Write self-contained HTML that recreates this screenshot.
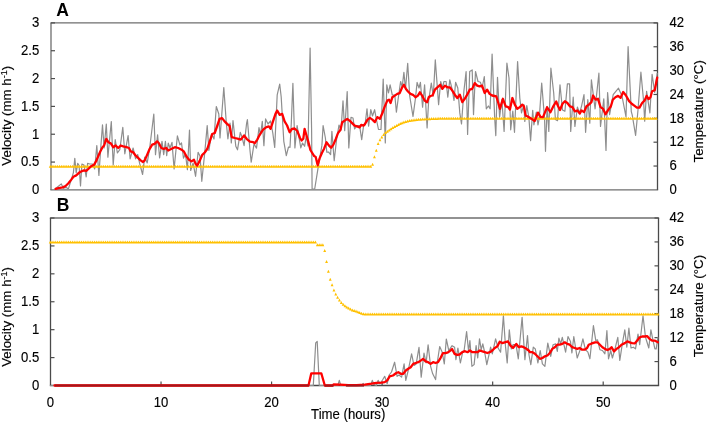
<!DOCTYPE html>
<html><head><meta charset="utf-8"><style>
html,body{margin:0;padding:0;background:#fff;width:709px;height:423px;overflow:hidden}
svg{display:block}
.t{font-family:"Liberation Sans", sans-serif;font-size:13.33px;fill:#000;stroke:#000;stroke-width:0.15px}
.lab{font-family:"Liberation Sans", sans-serif;font-size:17.5px;font-weight:bold;fill:#000}
.tx{will-change:transform}
</style></head><body>
<svg width="709" height="423" viewBox="0 0 709 423">
<path d="M50.35,22.9H658.15" stroke="#6e6e6e" stroke-width="1.3"/>
<path d="M50.35,189.9H658.15" stroke="#6e6e6e" stroke-width="1.3"/>
<path d="M51.0,22.9V189.9" stroke="#6e6e6e" stroke-width="1.3"/>
<path d="M657.5,22.9V189.9" stroke="#4a4a4a" stroke-width="1.3"/>
<path d="M51.0,162.07h4" stroke="#4d4d4d" stroke-width="1.2"/>
<path d="M51.0,134.23h4" stroke="#4d4d4d" stroke-width="1.2"/>
<path d="M51.0,106.40h4" stroke="#4d4d4d" stroke-width="1.2"/>
<path d="M51.0,78.57h4" stroke="#4d4d4d" stroke-width="1.2"/>
<path d="M51.0,50.73h4" stroke="#4d4d4d" stroke-width="1.2"/>
<path d="M51.0,22.90h4" stroke="#4d4d4d" stroke-width="1.2"/>
<path d="M657.5,166.04h-4" stroke="#4d4d4d" stroke-width="1.2"/>
<path d="M657.5,142.19h-4" stroke="#4d4d4d" stroke-width="1.2"/>
<path d="M657.5,118.33h-4" stroke="#4d4d4d" stroke-width="1.2"/>
<path d="M657.5,94.47h-4" stroke="#4d4d4d" stroke-width="1.2"/>
<path d="M657.5,70.61h-4" stroke="#4d4d4d" stroke-width="1.2"/>
<path d="M657.5,46.76h-4" stroke="#4d4d4d" stroke-width="1.2"/>
<path d="M657.5,22.90h-4" stroke="#4d4d4d" stroke-width="1.2"/>
<path d="M49.85,218.0H659.15" stroke="#6e6e6e" stroke-width="1.3"/>
<path d="M49.85,385.5H659.15" stroke="#4a4a4a" stroke-width="1.3"/>
<path d="M50.5,218.0V385.5" stroke="#4a4a4a" stroke-width="1.3"/>
<path d="M658.5,218.0V385.5" stroke="#4a4a4a" stroke-width="1.3"/>
<path d="M50.5,357.58h4" stroke="#4d4d4d" stroke-width="1.2"/>
<path d="M50.5,329.67h4" stroke="#4d4d4d" stroke-width="1.2"/>
<path d="M50.5,301.75h4" stroke="#4d4d4d" stroke-width="1.2"/>
<path d="M50.5,273.83h4" stroke="#4d4d4d" stroke-width="1.2"/>
<path d="M50.5,245.92h4" stroke="#4d4d4d" stroke-width="1.2"/>
<path d="M50.5,218.00h4" stroke="#4d4d4d" stroke-width="1.2"/>
<path d="M658.5,361.57h-4" stroke="#4d4d4d" stroke-width="1.2"/>
<path d="M658.5,337.64h-4" stroke="#4d4d4d" stroke-width="1.2"/>
<path d="M658.5,313.71h-4" stroke="#4d4d4d" stroke-width="1.2"/>
<path d="M658.5,289.79h-4" stroke="#4d4d4d" stroke-width="1.2"/>
<path d="M658.5,265.86h-4" stroke="#4d4d4d" stroke-width="1.2"/>
<path d="M658.5,241.93h-4" stroke="#4d4d4d" stroke-width="1.2"/>
<path d="M658.5,218.00h-4" stroke="#4d4d4d" stroke-width="1.2"/>
<path d="M161.04,385.5v-4" stroke="#4d4d4d" stroke-width="1.2"/>
<path d="M271.58,385.5v-4" stroke="#4d4d4d" stroke-width="1.2"/>
<path d="M382.12,385.5v-4" stroke="#4d4d4d" stroke-width="1.2"/>
<path d="M492.66,385.5v-4" stroke="#4d4d4d" stroke-width="1.2"/>
<path d="M603.20,385.5v-4" stroke="#4d4d4d" stroke-width="1.2"/>
<path d="M55.0,189.0 L61.3,183.9 L63.5,188.2 L66.3,187.4 L68.4,188.9 L71.3,179.6 L73.4,172.6 L74.8,158.4 L76.2,172.6 L77.7,163.3 L79.1,165.5 L80.5,186.0 L81.9,164.0 L84.0,165.0 L86.2,176.8 L87.6,163.3 L89.7,164.0 L92.6,164.0 L94.7,169.0 L96.8,145.6 L98.9,175.4 L101.0,144.2 L102.5,124.8 L104.1,148.0 L106.3,124.0 L107.9,157.1 L111.3,121.5 L113.2,165.0 L115.2,139.7 L117.4,153.0 L119.8,149.6 L122.8,127.3 L124.8,153.8 L128.1,135.6 L130.1,158.8 L133.1,148.0 L135.6,158.8 L137.7,154.6 L139.7,163.7 L142.6,174.5 L144.7,157.1 L147.2,162.9 L149.7,148.0 L153.8,114.0 L155.5,154.6 L157.6,134.8 L159.6,158.0 L162.0,141.4 L163.7,154.6 L165.4,141.4 L166.7,155.6 L168.3,143.2 L170.0,148.0 L172.0,142.4 L174.1,168.9 L177.4,135.8 L179.9,144.9 L181.5,143.0 L183.5,158.1 L185.5,154.0 L187.4,169.7 L189.5,130.0 L190.7,170.5 L193.1,163.1 L195.6,176.3 L198.1,152.3 L200.0,156.0 L201.8,181.3 L204.7,153.1 L207.2,125.6 L208.9,150.4 L211.5,134.0 L214.0,139.0 L216.3,106.5 L218.8,114.0 L220.0,138.0 L223.8,87.5 L226.3,123.0 L227.9,138.8 L230.0,123.0 L231.3,142.9 L233.0,120.6 L235.8,146.2 L237.5,149.8 L240.3,132.4 L242.0,137.0 L244.1,145.7 L246.6,123.3 L247.4,119.7 L249.9,149.5 L251.2,162.2 L254.0,144.0 L256.5,148.1 L259.0,127.5 L260.5,135.0 L262.3,121.4 L263.9,145.7 L265.6,118.9 L268.0,124.0 L270.6,121.0 L272.8,133.0 L274.7,147.5 L277.2,94.9 L279.7,84.1 L281.2,97.0 L283.8,141.3 L286.3,155.6 L288.5,147.0 L290.0,147.3 L291.3,123.0 L292.9,83.3 L294.9,148.0 L297.1,125.5 L298.6,135.0 L300.8,147.9 L302.5,143.0 L304.6,146.3 L306.3,136.0 L308.0,146.0 L310.1,48.0 L311.6,130.0 L312.1,189.1 L314.7,189.0 L318.0,168.4 L321.9,145.4 L323.1,125.6 L325.4,138.0 L326.8,152.1 L328.5,152.0 L330.6,154.6 L331.9,131.4 L334.2,160.7 L336.5,140.0 L339.0,125.0 L341.0,130.0 L343.0,100.8 L344.7,130.6 L347.2,91.6 L348.8,147.9 L351.0,117.3 L353.0,118.0 L354.6,129.0 L357.0,125.6 L359.6,125.6 L361.7,139.7 L363.7,124.8 L365.0,125.0 L367.0,108.8 L368.6,126.2 L370.8,109.7 L372.5,116.0 L374.6,109.7 L376.5,120.0 L378.5,129.5 L381.0,129.5 L383.2,79.0 L385.3,143.0 L386.8,84.8 L388.5,93.0 L390.1,84.8 L392.3,95.0 L394.8,95.0 L396.4,112.2 L398.0,100.0 L400.6,81.5 L402.2,87.0 L403.9,72.4 L405.5,89.0 L407.7,63.3 L409.7,96.0 L413.0,116.3 L415.5,98.0 L417.1,82.4 L419.0,88.0 L420.4,82.4 L422.6,107.2 L424.6,84.8 L427.1,127.9 L428.7,100.0 L431.3,83.1 L433.3,96.0 L435.3,59.9 L438.6,104.6 L440.7,81.5 L442.4,88.0 L444.0,81.5 L446.1,81.5 L447.8,97.2 L449.8,79.8 L452.3,90.0 L454.0,100.5 L455.6,82.3 L457.8,88.0 L459.8,112.9 L461.5,124.0 L463.9,91.0 L466.1,71.5 L467.6,134.4 L469.7,71.5 L472.2,69.9 L473.5,114.6 L475.5,71.5 L478.0,81.5 L480.5,82.3 L482.1,88.0 L484.3,76.5 L486.3,108.8 L488.4,106.0 L490.1,108.8 L492.1,54.1 L494.6,116.2 L495.8,135.6 L497.5,77.3 L499.6,117.1 L501.9,99.7 L504.1,131.5 L506.9,63.2 L509.0,78.0 L510.7,129.8 L512.8,111.0 L514.5,132.3 L517.6,61.6 L519.8,98.0 L521.5,112.9 L523.9,104.6 L524.8,121.5 L526.8,105.5 L528.9,117.9 L530.6,140.6 L532.7,110.4 L533.9,124.8 L536.3,112.0 L538.0,124.8 L539.3,117.9 L541.7,83.1 L544.6,119.5 L545.5,151.3 L547.1,106.3 L548.8,131.5 L550.9,68.2 L553.7,93.0 L555.4,119.5 L557.5,120.7 L560.0,84.8 L562.5,110.0 L564.9,111.3 L567.4,83.9 L569.6,83.9 L570.7,131.5 L573.2,97.2 L574.9,126.5 L577.4,107.0 L579.5,113.0 L581.5,106.3 L584.0,94.7 L585.6,132.3 L587.8,99.7 L589.8,123.2 L591.4,79.8 L593.9,99.7 L595.1,108.8 L598.9,73.2 L600.5,126.5 L603.8,98.8 L606.0,150.5 L607.6,92.6 L609.6,114.7 L613.2,94.6 L618.5,88.2 L622.0,96.0 L626.0,116.9 L628.1,46.7 L631.3,111.6 L632.3,115.4 L635.6,135.5 L638.0,110.0 L640.9,72.2 L643.6,101.0 L644.7,121.2 L646.6,91.4 L649.9,112.8 L652.1,74.4 L654.7,92.4 L657.2,73.3" fill="none" stroke="#8e8e8e" stroke-width="1.2" stroke-linejoin="round" stroke-linecap="round"/>
<path d="M48.80,167.70L50.25,164.70L51.70,167.70ZM50.64,167.70L52.09,164.70L53.54,167.70ZM52.48,167.70L53.93,164.70L55.38,167.70ZM54.33,167.70L55.78,164.70L57.23,167.70ZM56.17,167.70L57.62,164.70L59.07,167.70ZM58.01,167.70L59.46,164.70L60.91,167.70ZM59.85,167.70L61.30,164.70L62.75,167.70ZM61.69,167.70L63.14,164.70L64.59,167.70ZM63.54,167.70L64.99,164.70L66.44,167.70ZM65.38,167.70L66.83,164.70L68.28,167.70ZM67.22,167.70L68.67,164.70L70.12,167.70ZM69.06,167.70L70.51,164.70L71.96,167.70ZM70.90,167.70L72.35,164.70L73.80,167.70ZM72.75,167.70L74.20,164.70L75.65,167.70ZM74.59,167.70L76.04,164.70L77.49,167.70ZM76.43,167.70L77.88,164.70L79.33,167.70ZM78.27,167.70L79.72,164.70L81.17,167.70ZM80.11,167.70L81.56,164.70L83.01,167.70ZM81.96,167.70L83.41,164.70L84.86,167.70ZM83.80,167.70L85.25,164.70L86.70,167.70ZM85.64,167.70L87.09,164.70L88.54,167.70ZM87.48,167.70L88.93,164.70L90.38,167.70ZM89.32,167.70L90.77,164.70L92.22,167.70ZM91.17,167.70L92.62,164.70L94.07,167.70ZM93.01,167.70L94.46,164.70L95.91,167.70ZM94.85,167.70L96.30,164.70L97.75,167.70ZM96.69,167.70L98.14,164.70L99.59,167.70ZM98.53,167.70L99.98,164.70L101.43,167.70ZM100.38,167.70L101.83,164.70L103.28,167.70ZM102.22,167.70L103.67,164.70L105.12,167.70ZM104.06,167.70L105.51,164.70L106.96,167.70ZM105.90,167.70L107.35,164.70L108.80,167.70ZM107.74,167.70L109.19,164.70L110.64,167.70ZM109.59,167.70L111.04,164.70L112.49,167.70ZM111.43,167.70L112.88,164.70L114.33,167.70ZM113.27,167.70L114.72,164.70L116.17,167.70ZM115.11,167.70L116.56,164.70L118.01,167.70ZM116.95,167.70L118.40,164.70L119.85,167.70ZM118.80,167.70L120.25,164.70L121.70,167.70ZM120.64,167.70L122.09,164.70L123.54,167.70ZM122.48,167.70L123.93,164.70L125.38,167.70ZM124.32,167.70L125.77,164.70L127.22,167.70ZM126.16,167.70L127.61,164.70L129.06,167.70ZM128.01,167.70L129.46,164.70L130.91,167.70ZM129.85,167.70L131.30,164.70L132.75,167.70ZM131.69,167.70L133.14,164.70L134.59,167.70ZM133.53,167.70L134.98,164.70L136.43,167.70ZM135.37,167.70L136.82,164.70L138.27,167.70ZM137.22,167.70L138.67,164.70L140.12,167.70ZM139.06,167.70L140.51,164.70L141.96,167.70ZM140.90,167.70L142.35,164.70L143.80,167.70ZM142.74,167.70L144.19,164.70L145.64,167.70ZM144.58,167.70L146.03,164.70L147.48,167.70ZM146.43,167.70L147.88,164.70L149.33,167.70ZM148.27,167.70L149.72,164.70L151.17,167.70ZM150.11,167.70L151.56,164.70L153.01,167.70ZM151.95,167.70L153.40,164.70L154.85,167.70ZM153.79,167.70L155.24,164.70L156.69,167.70ZM155.64,167.70L157.09,164.70L158.54,167.70ZM157.48,167.70L158.93,164.70L160.38,167.70ZM159.32,167.70L160.77,164.70L162.22,167.70ZM161.16,167.70L162.61,164.70L164.06,167.70ZM163.00,167.70L164.45,164.70L165.90,167.70ZM164.85,167.70L166.30,164.70L167.75,167.70ZM166.69,167.70L168.14,164.70L169.59,167.70ZM168.53,167.70L169.98,164.70L171.43,167.70ZM170.37,167.70L171.82,164.70L173.27,167.70ZM172.21,167.70L173.66,164.70L175.11,167.70ZM174.06,167.70L175.51,164.70L176.96,167.70ZM175.90,167.70L177.35,164.70L178.80,167.70ZM177.74,167.70L179.19,164.70L180.64,167.70ZM179.58,167.70L181.03,164.70L182.48,167.70ZM181.42,167.70L182.87,164.70L184.32,167.70ZM183.27,167.70L184.72,164.70L186.17,167.70ZM185.11,167.70L186.56,164.70L188.01,167.70ZM186.95,167.70L188.40,164.70L189.85,167.70ZM188.79,167.70L190.24,164.70L191.69,167.70ZM190.63,167.70L192.08,164.70L193.53,167.70ZM192.48,167.70L193.93,164.70L195.38,167.70ZM194.32,167.70L195.77,164.70L197.22,167.70ZM196.16,167.70L197.61,164.70L199.06,167.70ZM198.00,167.70L199.45,164.70L200.90,167.70ZM199.84,167.70L201.29,164.70L202.74,167.70ZM201.69,167.70L203.14,164.70L204.59,167.70ZM203.53,167.70L204.98,164.70L206.43,167.70ZM205.37,167.70L206.82,164.70L208.27,167.70ZM207.21,167.70L208.66,164.70L210.11,167.70ZM209.05,167.70L210.50,164.70L211.95,167.70ZM210.90,167.70L212.35,164.70L213.80,167.70ZM212.74,167.70L214.19,164.70L215.64,167.70ZM214.58,167.70L216.03,164.70L217.48,167.70ZM216.42,167.70L217.87,164.70L219.32,167.70ZM218.26,167.70L219.71,164.70L221.16,167.70ZM220.11,167.70L221.56,164.70L223.01,167.70ZM221.95,167.70L223.40,164.70L224.85,167.70ZM223.79,167.70L225.24,164.70L226.69,167.70ZM225.63,167.70L227.08,164.70L228.53,167.70ZM227.47,167.70L228.92,164.70L230.37,167.70ZM229.32,167.70L230.77,164.70L232.22,167.70ZM231.16,167.70L232.61,164.70L234.06,167.70ZM233.00,167.70L234.45,164.70L235.90,167.70ZM234.84,167.70L236.29,164.70L237.74,167.70ZM236.68,167.70L238.13,164.70L239.58,167.70ZM238.53,167.70L239.98,164.70L241.43,167.70ZM240.37,167.70L241.82,164.70L243.27,167.70ZM242.21,167.70L243.66,164.70L245.11,167.70ZM244.05,167.70L245.50,164.70L246.95,167.70ZM245.89,167.70L247.34,164.70L248.79,167.70ZM247.74,167.70L249.19,164.70L250.64,167.70ZM249.58,167.70L251.03,164.70L252.48,167.70ZM251.42,167.70L252.87,164.70L254.32,167.70ZM253.26,167.70L254.71,164.70L256.16,167.70ZM255.10,167.70L256.55,164.70L258.00,167.70ZM256.95,167.70L258.40,164.70L259.85,167.70ZM258.79,167.70L260.24,164.70L261.69,167.70ZM260.63,167.70L262.08,164.70L263.53,167.70ZM262.47,167.70L263.92,164.70L265.37,167.70ZM264.31,167.70L265.76,164.70L267.21,167.70ZM266.16,167.70L267.61,164.70L269.06,167.70ZM268.00,167.70L269.45,164.70L270.90,167.70ZM269.84,167.70L271.29,164.70L272.74,167.70ZM271.68,167.70L273.13,164.70L274.58,167.70ZM273.52,167.70L274.97,164.70L276.42,167.70ZM275.37,167.70L276.82,164.70L278.27,167.70ZM277.21,167.70L278.66,164.70L280.11,167.70ZM279.05,167.70L280.50,164.70L281.95,167.70ZM280.89,167.70L282.34,164.70L283.79,167.70ZM282.73,167.70L284.18,164.70L285.63,167.70ZM284.58,167.70L286.03,164.70L287.48,167.70ZM286.42,167.70L287.87,164.70L289.32,167.70ZM288.26,167.70L289.71,164.70L291.16,167.70ZM290.10,167.70L291.55,164.70L293.00,167.70ZM291.94,167.70L293.39,164.70L294.84,167.70ZM293.79,167.70L295.24,164.70L296.69,167.70ZM295.63,167.70L297.08,164.70L298.53,167.70ZM297.47,167.70L298.92,164.70L300.37,167.70ZM299.31,167.70L300.76,164.70L302.21,167.70ZM301.15,167.70L302.60,164.70L304.05,167.70ZM303.00,167.70L304.45,164.70L305.90,167.70ZM304.84,167.70L306.29,164.70L307.74,167.70ZM306.68,167.70L308.13,164.70L309.58,167.70ZM308.52,167.70L309.97,164.70L311.42,167.70ZM310.36,167.70L311.81,164.70L313.26,167.70ZM312.21,167.70L313.66,164.70L315.11,167.70ZM314.05,167.70L315.50,164.70L316.95,167.70ZM315.89,167.70L317.34,164.70L318.79,167.70ZM317.73,167.70L319.18,164.70L320.63,167.70ZM319.57,167.70L321.02,164.70L322.47,167.70ZM321.42,167.70L322.87,164.70L324.32,167.70ZM323.26,167.70L324.71,164.70L326.16,167.70ZM325.10,167.70L326.55,164.70L328.00,167.70ZM326.94,167.70L328.39,164.70L329.84,167.70ZM328.78,167.70L330.23,164.70L331.68,167.70ZM330.63,167.70L332.08,164.70L333.53,167.70ZM332.47,167.70L333.92,164.70L335.37,167.70ZM334.31,167.70L335.76,164.70L337.21,167.70ZM336.15,167.70L337.60,164.70L339.05,167.70ZM337.99,167.70L339.44,164.70L340.89,167.70ZM339.84,167.70L341.29,164.70L342.74,167.70ZM341.68,167.70L343.13,164.70L344.58,167.70ZM343.52,167.70L344.97,164.70L346.42,167.70ZM345.36,167.70L346.81,164.70L348.26,167.70ZM347.20,167.70L348.65,164.70L350.10,167.70ZM349.05,167.70L350.50,164.70L351.95,167.70ZM350.89,167.70L352.34,164.70L353.79,167.70ZM352.73,167.70L354.18,164.70L355.63,167.70ZM354.57,167.70L356.02,164.70L357.47,167.70ZM356.41,167.70L357.86,164.70L359.31,167.70ZM358.26,167.70L359.71,164.70L361.16,167.70ZM360.10,167.70L361.55,164.70L363.00,167.70ZM361.94,167.70L363.39,164.70L364.84,167.70ZM363.78,167.70L365.23,164.70L366.68,167.70ZM365.62,167.70L367.07,164.70L368.52,167.70ZM367.47,167.70L368.92,164.70L370.37,167.70ZM369.31,167.70L370.76,164.70L372.21,167.70ZM371.15,165.70L372.60,162.70L374.05,165.70ZM372.99,158.33L374.44,155.33L375.89,158.33ZM374.83,151.68L376.28,148.68L377.73,151.68ZM376.68,145.04L378.13,142.04L379.58,145.04ZM378.52,141.25L379.97,138.25L381.42,141.25ZM380.36,138.53L381.81,135.53L383.26,138.53ZM382.20,135.95L383.65,132.95L385.10,135.95ZM384.04,134.11L385.49,131.11L386.94,134.11ZM385.89,132.80L387.34,129.80L388.79,132.80ZM387.73,131.50L389.18,128.50L390.63,131.50ZM389.57,130.13L391.02,127.13L392.47,130.13ZM391.41,128.99L392.86,125.99L394.31,128.99ZM393.25,127.88L394.70,124.88L396.15,127.88ZM395.10,126.89L396.55,123.89L398.00,126.89ZM396.94,125.93L398.39,122.93L399.84,125.93ZM398.78,125.05L400.23,122.05L401.68,125.05ZM400.62,124.33L402.07,121.33L403.52,124.33ZM402.46,123.61L403.91,120.61L405.36,123.61ZM404.31,123.05L405.76,120.05L407.21,123.05ZM406.15,122.51L407.60,119.51L409.05,122.51ZM407.99,121.98L409.44,118.98L410.89,121.98ZM409.83,121.69L411.28,118.69L412.73,121.69ZM411.67,121.44L413.12,118.44L414.57,121.44ZM413.52,121.19L414.97,118.19L416.42,121.19ZM415.36,120.95L416.81,117.95L418.26,120.95ZM417.20,120.75L418.65,117.75L420.10,120.75ZM419.04,120.64L420.49,117.64L421.94,120.64ZM420.88,120.53L422.33,117.53L423.78,120.53ZM422.73,120.42L424.18,117.42L425.63,120.42ZM424.57,120.31L426.02,117.31L427.47,120.31ZM426.41,120.22L427.86,117.22L429.31,120.22ZM428.25,120.14L429.70,117.14L431.15,120.14ZM430.09,120.06L431.54,117.06L432.99,120.06ZM431.94,119.97L433.39,116.97L434.84,119.97ZM433.78,119.90L435.23,116.90L436.68,119.90ZM435.62,119.88L437.07,116.88L438.52,119.88ZM437.46,119.87L438.91,116.87L440.36,119.87ZM439.30,119.85L440.75,116.85L442.20,119.85ZM441.15,119.84L442.60,116.84L444.05,119.84ZM442.99,119.82L444.44,116.82L445.89,119.82ZM444.83,119.81L446.28,116.81L447.73,119.81ZM446.67,119.80L448.12,116.80L449.57,119.80ZM448.51,119.78L449.96,116.78L451.41,119.78ZM450.36,119.77L451.81,116.77L453.26,119.77ZM452.20,119.75L453.65,116.75L455.10,119.75ZM454.04,119.74L455.49,116.74L456.94,119.74ZM455.88,119.72L457.33,116.72L458.78,119.72ZM457.72,119.71L459.17,116.71L460.62,119.71ZM459.57,119.70L461.02,116.70L462.47,119.70ZM461.41,119.70L462.86,116.70L464.31,119.70ZM463.25,119.70L464.70,116.70L466.15,119.70ZM465.09,119.70L466.54,116.70L467.99,119.70ZM466.93,119.70L468.38,116.70L469.83,119.70ZM468.78,119.70L470.23,116.70L471.68,119.70ZM470.62,119.70L472.07,116.70L473.52,119.70ZM472.46,119.70L473.91,116.70L475.36,119.70ZM474.30,119.70L475.75,116.70L477.20,119.70ZM476.14,119.70L477.59,116.70L479.04,119.70ZM477.99,119.70L479.44,116.70L480.89,119.70ZM479.83,119.70L481.28,116.70L482.73,119.70ZM481.67,119.70L483.12,116.70L484.57,119.70ZM483.51,119.70L484.96,116.70L486.41,119.70ZM485.35,119.70L486.80,116.70L488.25,119.70ZM487.20,119.70L488.65,116.70L490.10,119.70ZM489.04,119.70L490.49,116.70L491.94,119.70ZM490.88,119.70L492.33,116.70L493.78,119.70ZM492.72,119.70L494.17,116.70L495.62,119.70ZM494.56,119.70L496.01,116.70L497.46,119.70ZM496.41,119.70L497.86,116.70L499.31,119.70ZM498.25,119.70L499.70,116.70L501.15,119.70ZM500.09,119.70L501.54,116.70L502.99,119.70ZM501.93,119.70L503.38,116.70L504.83,119.70ZM503.77,119.70L505.22,116.70L506.67,119.70ZM505.62,119.70L507.07,116.70L508.52,119.70ZM507.46,119.70L508.91,116.70L510.36,119.70ZM509.30,119.70L510.75,116.70L512.20,119.70ZM511.14,119.70L512.59,116.70L514.04,119.70ZM512.98,119.70L514.43,116.70L515.88,119.70ZM514.83,119.70L516.28,116.70L517.73,119.70ZM516.67,119.70L518.12,116.70L519.57,119.70ZM518.51,119.70L519.96,116.70L521.41,119.70ZM520.35,119.70L521.80,116.70L523.25,119.70ZM522.19,119.70L523.64,116.70L525.09,119.70ZM524.04,119.70L525.49,116.70L526.94,119.70ZM525.88,119.70L527.33,116.70L528.78,119.70ZM527.72,119.70L529.17,116.70L530.62,119.70ZM529.56,119.70L531.01,116.70L532.46,119.70ZM531.40,119.70L532.85,116.70L534.30,119.70ZM533.25,119.70L534.70,116.70L536.15,119.70ZM535.09,119.70L536.54,116.70L537.99,119.70ZM536.93,119.70L538.38,116.70L539.83,119.70ZM538.77,119.70L540.22,116.70L541.67,119.70ZM540.61,119.70L542.06,116.70L543.51,119.70ZM542.46,119.70L543.91,116.70L545.36,119.70ZM544.30,119.70L545.75,116.70L547.20,119.70ZM546.14,119.70L547.59,116.70L549.04,119.70ZM547.98,119.70L549.43,116.70L550.88,119.70ZM549.82,119.70L551.27,116.70L552.72,119.70ZM551.67,119.70L553.12,116.70L554.57,119.70ZM553.51,119.70L554.96,116.70L556.41,119.70ZM555.35,119.70L556.80,116.70L558.25,119.70ZM557.19,119.70L558.64,116.70L560.09,119.70ZM559.03,119.70L560.48,116.70L561.93,119.70ZM560.88,119.70L562.33,116.70L563.78,119.70ZM562.72,119.70L564.17,116.70L565.62,119.70ZM564.56,119.70L566.01,116.70L567.46,119.70ZM566.40,119.70L567.85,116.70L569.30,119.70ZM568.24,119.70L569.69,116.70L571.14,119.70ZM570.09,119.70L571.54,116.70L572.99,119.70ZM571.93,119.70L573.38,116.70L574.83,119.70ZM573.77,119.70L575.22,116.70L576.67,119.70ZM575.61,119.70L577.06,116.70L578.51,119.70ZM577.45,119.70L578.90,116.70L580.35,119.70ZM579.30,119.70L580.75,116.70L582.20,119.70ZM581.14,119.70L582.59,116.70L584.04,119.70ZM582.98,119.70L584.43,116.70L585.88,119.70ZM584.82,119.70L586.27,116.70L587.72,119.70ZM586.66,119.70L588.11,116.70L589.56,119.70ZM588.51,119.70L589.96,116.70L591.41,119.70ZM590.35,119.70L591.80,116.70L593.25,119.70ZM592.19,119.70L593.64,116.70L595.09,119.70ZM594.03,119.70L595.48,116.70L596.93,119.70ZM595.87,119.70L597.32,116.70L598.77,119.70ZM597.72,119.70L599.17,116.70L600.62,119.70ZM599.56,119.70L601.01,116.70L602.46,119.70ZM601.40,119.70L602.85,116.70L604.30,119.70ZM603.24,119.70L604.69,116.70L606.14,119.70ZM605.08,119.70L606.53,116.70L607.98,119.70ZM606.93,119.70L608.38,116.70L609.83,119.70ZM608.77,119.70L610.22,116.70L611.67,119.70ZM610.61,119.70L612.06,116.70L613.51,119.70ZM612.45,119.70L613.90,116.70L615.35,119.70ZM614.29,119.70L615.74,116.70L617.19,119.70ZM616.14,119.70L617.59,116.70L619.04,119.70ZM617.98,119.70L619.43,116.70L620.88,119.70ZM619.82,119.70L621.27,116.70L622.72,119.70ZM621.66,119.70L623.11,116.70L624.56,119.70ZM623.50,119.70L624.95,116.70L626.40,119.70ZM625.35,119.70L626.80,116.70L628.25,119.70ZM627.19,119.70L628.64,116.70L630.09,119.70ZM629.03,119.70L630.48,116.70L631.93,119.70ZM630.87,119.70L632.32,116.70L633.77,119.70ZM632.71,119.70L634.16,116.70L635.61,119.70ZM634.56,119.70L636.01,116.70L637.46,119.70ZM636.40,119.70L637.85,116.70L639.30,119.70ZM638.24,119.70L639.69,116.70L641.14,119.70ZM640.08,119.70L641.53,116.70L642.98,119.70ZM641.92,119.70L643.37,116.70L644.82,119.70ZM643.77,119.70L645.22,116.70L646.67,119.70ZM645.61,119.70L647.06,116.70L648.51,119.70ZM647.45,119.70L648.90,116.70L650.35,119.70ZM649.29,119.70L650.74,116.70L652.19,119.70ZM651.13,119.70L652.58,116.70L654.03,119.70ZM652.98,119.70L654.43,116.70L655.88,119.70ZM654.82,119.70L656.27,116.70L657.72,119.70Z" fill="#ffc000"/>
<path d="M55.7,188.9 L58.5,188.2 L62.8,187.4 L65.6,186.0 L68.4,183.2 L71.3,179.6 L73.4,176.8 L76.2,175.4 L78.4,173.3 L80.5,171.8 L84.0,170.4 L86.2,170.9 L88.3,169.0 L91.1,166.2 L94.0,164.8 L96.1,161.2 L98.2,156.2 L100.4,151.3 L102.5,147.2 L104.1,145.5 L106.3,138.9 L108.3,142.2 L110.8,143.4 L113.2,147.2 L115.7,145.5 L118.2,148.0 L120.7,145.5 L123.2,146.4 L126.5,147.2 L129.0,148.0 L130.6,151.3 L133.1,152.2 L135.6,155.5 L138.1,157.9 L140.6,160.4 L143.0,162.0 L144.7,160.4 L147.2,154.6 L149.7,148.8 L152.2,144.7 L154.6,143.9 L157.1,141.4 L158.8,143.0 L161.3,148.0 L163.7,148.8 L166.2,148.0 L168.3,150.5 L171.6,148.8 L174.9,147.2 L178.2,148.0 L181.6,149.7 L184.0,151.7 L186.5,156.5 L189.0,159.8 L191.5,161.4 L194.0,159.8 L195.6,163.9 L197.3,165.6 L199.8,160.6 L202.3,154.8 L204.7,152.5 L207.2,149.0 L209.7,141.6 L212.2,134.0 L214.7,133.0 L217.2,126.0 L219.6,118.9 L222.1,118.1 L224.6,121.4 L227.1,123.9 L229.6,126.0 L231.7,137.1 L235.0,138.0 L238.3,138.8 L240.8,139.6 L244.1,135.5 L246.6,138.8 L249.9,141.6 L253.2,142.1 L254.8,143.2 L257.3,139.6 L259.8,134.6 L263.1,129.7 L266.4,127.2 L268.9,126.4 L270.6,128.8 L273.0,121.4 L275.5,113.9 L277.2,110.6 L279.7,114.8 L282.2,113.9 L284.6,121.4 L287.1,125.5 L289.6,132.2 L292.1,128.8 L294.6,128.5 L297.3,131.0 L300.0,138.0 L301.6,140.5 L303.3,138.8 L304.6,128.9 L306.3,134.7 L308.2,141.3 L310.4,150.0 L314.2,156.1 L315.7,156.9 L317.7,165.3 L319.6,158.4 L321.9,153.0 L324.2,148.4 L326.5,142.3 L328.8,145.4 L331.1,147.7 L333.4,144.6 L335.7,139.2 L338.0,133.1 L340.5,129.7 L342.2,122.3 L344.7,120.6 L347.2,119.0 L349.6,120.6 L352.1,123.1 L354.6,125.6 L357.1,126.4 L359.6,127.3 L361.2,124.8 L363.7,125.6 L365.0,124.0 L367.5,119.6 L369.9,117.9 L372.4,119.6 L374.9,122.1 L377.4,117.1 L379.9,118.8 L382.4,113.0 L384.8,106.4 L387.3,100.6 L389.0,99.7 L390.6,103.0 L392.3,97.3 L394.8,95.6 L397.3,93.9 L399.7,93.1 L402.2,87.3 L403.9,84.8 L406.0,89.0 L408.0,91.5 L410.5,93.9 L413.0,94.8 L415.5,97.3 L417.9,95.6 L419.9,92.3 L422.1,95.6 L424.6,100.6 L427.1,102.2 L428.7,97.3 L430.5,96.0 L432.5,95.5 L434.9,89.7 L437.4,87.3 L440.2,84.8 L442.4,88.9 L444.9,85.6 L447.4,87.3 L449.8,87.3 L452.3,90.6 L454.8,94.7 L457.3,98.0 L459.8,94.7 L462.3,102.2 L464.7,98.8 L467.2,94.7 L469.7,89.7 L472.2,88.9 L474.7,83.1 L477.2,85.6 L479.6,86.4 L482.1,85.6 L484.6,93.0 L487.1,89.7 L489.6,93.9 L492.1,95.5 L494.5,96.0 L496.3,96.4 L498.3,103.0 L499.9,108.8 L502.9,98.8 L505.7,106.3 L508.2,107.1 L509.9,109.6 L512.4,98.0 L514.8,104.6 L517.3,108.8 L519.8,107.1 L522.3,104.6 L523.9,106.3 L525.6,115.4 L528.1,116.8 L531.4,118.7 L533.0,119.9 L534.7,121.0 L538.0,112.6 L540.5,116.8 L543.0,117.1 L547.1,107.3 L550.4,112.2 L553.7,105.6 L556.2,101.5 L558.0,106.0 L560.0,110.0 L562.5,103.8 L564.9,101.3 L567.4,103.0 L569.9,106.3 L572.4,107.1 L574.9,111.3 L577.4,110.5 L579.8,113.5 L581.5,110.4 L584.0,112.1 L586.5,106.3 L588.9,104.6 L591.4,102.2 L593.1,95.5 L595.6,99.7 L598.0,98.8 L600.5,107.1 L603.0,108.8 L605.5,114.3 L607.6,110.8 L610.9,106.3 L612.8,99.8 L615.4,97.2 L618.0,95.9 L620.6,97.8 L623.2,92.0 L625.8,95.2 L629.1,101.1 L631.7,103.7 L634.3,105.6 L636.9,107.6 L639.5,107.6 L642.1,103.0 L644.7,100.4 L646.6,95.9 L648.6,99.1 L650.5,97.2 L652.1,91.3 L654.7,90.3 L657.2,77.6" fill="none" stroke="#ff0000" stroke-width="2.3" stroke-linejoin="round" stroke-linecap="round"/>
<path d="M50.5,385.5 L313.3,385.5 L315.7,343.0 L317.2,341.4 L319.3,385.5 L337.8,385.5 L339.3,380.4 L340.8,385.5 L361.5,385.5 L363.2,383.4 L364.5,385.5 L370.5,385.5 L372.3,380.4 L374.0,384.5 L376.3,385.5 L378.1,380.4 L380.0,383.6 L382.5,380.0 L384.7,376.3 L387.2,383.7 L389.2,375.0 L391.5,372.0 L394.6,362.2 L397.1,376.3 L399.0,375.0 L401.6,377.1 L404.1,363.9 L405.8,380.4 L408.2,370.5 L411.6,353.9 L414.0,365.5 L416.2,363.9 L419.0,347.3 L421.2,377.1 L424.0,353.1 L426.1,363.0 L428.1,344.8 L430.6,366.3 L432.7,373.8 L435.6,379.6 L437.2,363.0 L439.7,346.5 L442.2,352.3 L444.3,363.9 L446.3,339.0 L448.8,350.6 L452.1,345.7 L454.6,347.3 L455.9,359.7 L457.9,348.1 L460.4,363.0 L462.5,353.0 L464.1,350.5 L466.6,331.5 L468.6,351.4 L469.9,340.6 L471.9,366.3 L474.1,364.6 L476.1,345.6 L477.7,358.0 L479.5,338.9 L481.2,349.7 L482.8,343.9 L484.8,353.0 L486.8,364.6 L489.0,354.6 L490.6,347.2 L492.3,353.8 L495.6,338.9 L498.1,348.0 L500.6,352.2 L503.4,315.8 L505.5,346.4 L507.2,363.0 L509.3,329.8 L511.3,348.9 L513.0,344.7 L516.0,344.7 L518.3,358.8 L522.1,317.4 L524.9,359.6 L527.5,335.6 L529.0,355.0 L530.8,364.6 L533.3,347.2 L535.3,348.9 L537.9,363.0 L540.2,350.5 L542.4,363.8 L544.9,366.3 L547.8,343.1 L550.7,356.3 L553.1,344.7 L555.6,343.9 L557.3,351.4 L558.9,338.1 L560.6,343.9 L562.3,337.3 L565.6,352.2 L568.0,336.5 L570.5,341.4 L571.9,353.0 L573.8,336.5 L577.2,358.0 L580.5,348.9 L582.9,338.9 L585.4,349.7 L587.9,352.2 L589.9,358.8 L593.4,325.7 L595.8,340.6 L597.5,339.8 L599.9,349.7 L602.4,350.5 L604.9,353.8 L606.9,330.7 L608.5,358.8 L610.7,350.5 L612.4,358.0 L614.8,349.7 L617.8,337.3 L619.8,360.5 L622.3,343.9 L624.8,329.8 L626.8,347.2 L628.9,328.2 L631.0,348.0 L633.4,347.2 L635.5,348.9 L638.0,334.0 L639.7,344.7 L643.0,315.8 L645.5,337.3 L648.8,348.0 L650.9,329.8 L652.9,339.8 L654.9,348.9 L656.2,348.9 L657.9,337.3" fill="none" stroke="#8e8e8e" stroke-width="1.2" stroke-linejoin="round" stroke-linecap="round"/>
<path d="M48.80,243.60L50.25,240.60L51.70,243.60ZM50.64,243.60L52.09,240.60L53.54,243.60ZM52.48,243.60L53.93,240.60L55.38,243.60ZM54.33,243.60L55.78,240.60L57.23,243.60ZM56.17,243.60L57.62,240.60L59.07,243.60ZM58.01,243.60L59.46,240.60L60.91,243.60ZM59.85,243.60L61.30,240.60L62.75,243.60ZM61.69,243.60L63.14,240.60L64.59,243.60ZM63.54,243.60L64.99,240.60L66.44,243.60ZM65.38,243.60L66.83,240.60L68.28,243.60ZM67.22,243.60L68.67,240.60L70.12,243.60ZM69.06,243.60L70.51,240.60L71.96,243.60ZM70.90,243.60L72.35,240.60L73.80,243.60ZM72.75,243.60L74.20,240.60L75.65,243.60ZM74.59,243.60L76.04,240.60L77.49,243.60ZM76.43,243.60L77.88,240.60L79.33,243.60ZM78.27,243.60L79.72,240.60L81.17,243.60ZM80.11,243.60L81.56,240.60L83.01,243.60ZM81.96,243.60L83.41,240.60L84.86,243.60ZM83.80,243.60L85.25,240.60L86.70,243.60ZM85.64,243.60L87.09,240.60L88.54,243.60ZM87.48,243.60L88.93,240.60L90.38,243.60ZM89.32,243.60L90.77,240.60L92.22,243.60ZM91.17,243.60L92.62,240.60L94.07,243.60ZM93.01,243.60L94.46,240.60L95.91,243.60ZM94.85,243.60L96.30,240.60L97.75,243.60ZM96.69,243.60L98.14,240.60L99.59,243.60ZM98.53,243.60L99.98,240.60L101.43,243.60ZM100.38,243.60L101.83,240.60L103.28,243.60ZM102.22,243.60L103.67,240.60L105.12,243.60ZM104.06,243.60L105.51,240.60L106.96,243.60ZM105.90,243.60L107.35,240.60L108.80,243.60ZM107.74,243.60L109.19,240.60L110.64,243.60ZM109.59,243.60L111.04,240.60L112.49,243.60ZM111.43,243.60L112.88,240.60L114.33,243.60ZM113.27,243.60L114.72,240.60L116.17,243.60ZM115.11,243.60L116.56,240.60L118.01,243.60ZM116.95,243.60L118.40,240.60L119.85,243.60ZM118.80,243.60L120.25,240.60L121.70,243.60ZM120.64,243.60L122.09,240.60L123.54,243.60ZM122.48,243.60L123.93,240.60L125.38,243.60ZM124.32,243.60L125.77,240.60L127.22,243.60ZM126.16,243.60L127.61,240.60L129.06,243.60ZM128.01,243.60L129.46,240.60L130.91,243.60ZM129.85,243.60L131.30,240.60L132.75,243.60ZM131.69,243.60L133.14,240.60L134.59,243.60ZM133.53,243.60L134.98,240.60L136.43,243.60ZM135.37,243.60L136.82,240.60L138.27,243.60ZM137.22,243.60L138.67,240.60L140.12,243.60ZM139.06,243.60L140.51,240.60L141.96,243.60ZM140.90,243.60L142.35,240.60L143.80,243.60ZM142.74,243.60L144.19,240.60L145.64,243.60ZM144.58,243.60L146.03,240.60L147.48,243.60ZM146.43,243.60L147.88,240.60L149.33,243.60ZM148.27,243.60L149.72,240.60L151.17,243.60ZM150.11,243.60L151.56,240.60L153.01,243.60ZM151.95,243.60L153.40,240.60L154.85,243.60ZM153.79,243.60L155.24,240.60L156.69,243.60ZM155.64,243.60L157.09,240.60L158.54,243.60ZM157.48,243.60L158.93,240.60L160.38,243.60ZM159.32,243.60L160.77,240.60L162.22,243.60ZM161.16,243.60L162.61,240.60L164.06,243.60ZM163.00,243.60L164.45,240.60L165.90,243.60ZM164.85,243.60L166.30,240.60L167.75,243.60ZM166.69,243.60L168.14,240.60L169.59,243.60ZM168.53,243.60L169.98,240.60L171.43,243.60ZM170.37,243.60L171.82,240.60L173.27,243.60ZM172.21,243.60L173.66,240.60L175.11,243.60ZM174.06,243.60L175.51,240.60L176.96,243.60ZM175.90,243.60L177.35,240.60L178.80,243.60ZM177.74,243.60L179.19,240.60L180.64,243.60ZM179.58,243.60L181.03,240.60L182.48,243.60ZM181.42,243.60L182.87,240.60L184.32,243.60ZM183.27,243.60L184.72,240.60L186.17,243.60ZM185.11,243.60L186.56,240.60L188.01,243.60ZM186.95,243.60L188.40,240.60L189.85,243.60ZM188.79,243.60L190.24,240.60L191.69,243.60ZM190.63,243.60L192.08,240.60L193.53,243.60ZM192.48,243.60L193.93,240.60L195.38,243.60ZM194.32,243.60L195.77,240.60L197.22,243.60ZM196.16,243.60L197.61,240.60L199.06,243.60ZM198.00,243.60L199.45,240.60L200.90,243.60ZM199.84,243.60L201.29,240.60L202.74,243.60ZM201.69,243.60L203.14,240.60L204.59,243.60ZM203.53,243.60L204.98,240.60L206.43,243.60ZM205.37,243.60L206.82,240.60L208.27,243.60ZM207.21,243.60L208.66,240.60L210.11,243.60ZM209.05,243.60L210.50,240.60L211.95,243.60ZM210.90,243.60L212.35,240.60L213.80,243.60ZM212.74,243.60L214.19,240.60L215.64,243.60ZM214.58,243.60L216.03,240.60L217.48,243.60ZM216.42,243.60L217.87,240.60L219.32,243.60ZM218.26,243.60L219.71,240.60L221.16,243.60ZM220.11,243.60L221.56,240.60L223.01,243.60ZM221.95,243.60L223.40,240.60L224.85,243.60ZM223.79,243.60L225.24,240.60L226.69,243.60ZM225.63,243.60L227.08,240.60L228.53,243.60ZM227.47,243.60L228.92,240.60L230.37,243.60ZM229.32,243.60L230.77,240.60L232.22,243.60ZM231.16,243.60L232.61,240.60L234.06,243.60ZM233.00,243.60L234.45,240.60L235.90,243.60ZM234.84,243.60L236.29,240.60L237.74,243.60ZM236.68,243.60L238.13,240.60L239.58,243.60ZM238.53,243.60L239.98,240.60L241.43,243.60ZM240.37,243.60L241.82,240.60L243.27,243.60ZM242.21,243.60L243.66,240.60L245.11,243.60ZM244.05,243.60L245.50,240.60L246.95,243.60ZM245.89,243.60L247.34,240.60L248.79,243.60ZM247.74,243.60L249.19,240.60L250.64,243.60ZM249.58,243.60L251.03,240.60L252.48,243.60ZM251.42,243.60L252.87,240.60L254.32,243.60ZM253.26,243.60L254.71,240.60L256.16,243.60ZM255.10,243.60L256.55,240.60L258.00,243.60ZM256.95,243.60L258.40,240.60L259.85,243.60ZM258.79,243.60L260.24,240.60L261.69,243.60ZM260.63,243.60L262.08,240.60L263.53,243.60ZM262.47,243.60L263.92,240.60L265.37,243.60ZM264.31,243.60L265.76,240.60L267.21,243.60ZM266.16,243.60L267.61,240.60L269.06,243.60ZM268.00,243.60L269.45,240.60L270.90,243.60ZM269.84,243.60L271.29,240.60L272.74,243.60ZM271.68,243.60L273.13,240.60L274.58,243.60ZM273.52,243.60L274.97,240.60L276.42,243.60ZM275.37,243.60L276.82,240.60L278.27,243.60ZM277.21,243.60L278.66,240.60L280.11,243.60ZM279.05,243.60L280.50,240.60L281.95,243.60ZM280.89,243.60L282.34,240.60L283.79,243.60ZM282.73,243.60L284.18,240.60L285.63,243.60ZM284.58,243.60L286.03,240.60L287.48,243.60ZM286.42,243.60L287.87,240.60L289.32,243.60ZM288.26,243.60L289.71,240.60L291.16,243.60ZM290.10,243.60L291.55,240.60L293.00,243.60ZM291.94,243.60L293.39,240.60L294.84,243.60ZM293.79,243.60L295.24,240.60L296.69,243.60ZM295.63,243.60L297.08,240.60L298.53,243.60ZM297.47,243.60L298.92,240.60L300.37,243.60ZM299.31,243.60L300.76,240.60L302.21,243.60ZM301.15,243.60L302.60,240.60L304.05,243.60ZM303.00,243.60L304.45,240.60L305.90,243.60ZM304.84,243.60L306.29,240.60L307.74,243.60ZM306.68,243.60L308.13,240.60L309.58,243.60ZM308.52,243.60L309.97,240.60L311.42,243.60ZM310.36,243.60L311.81,240.60L313.26,243.60ZM312.21,243.60L313.66,240.60L315.11,243.60ZM314.05,243.60L315.50,240.60L316.95,243.60ZM315.89,246.30L317.34,243.30L318.79,246.30ZM317.73,246.30L319.18,243.30L320.63,246.30ZM319.57,246.30L321.02,243.30L322.47,246.30ZM321.42,246.30L322.87,243.30L324.32,246.30ZM323.26,251.95L324.71,248.95L326.16,251.95ZM325.10,263.00L326.55,260.00L328.00,263.00ZM326.94,272.66L328.39,269.66L329.84,272.66ZM328.78,280.70L330.23,277.70L331.68,280.70ZM330.63,286.32L332.08,283.32L333.53,286.32ZM332.47,291.54L333.92,288.54L335.37,291.54ZM334.31,295.51L335.76,292.51L337.21,295.51ZM336.15,298.80L337.60,295.80L339.05,298.80ZM337.99,301.59L339.44,298.59L340.89,301.59ZM339.84,303.98L341.29,300.98L342.74,303.98ZM341.68,305.73L343.13,302.73L344.58,305.73ZM343.52,307.23L344.97,304.23L346.42,307.23ZM345.36,308.45L346.81,305.45L348.26,308.45ZM347.20,309.46L348.65,306.46L350.10,309.46ZM349.05,310.44L350.50,307.44L351.95,310.44ZM350.89,311.41L352.34,308.41L353.79,311.41ZM352.73,312.01L354.18,309.01L355.63,312.01ZM354.57,312.61L356.02,309.61L357.47,312.61ZM356.41,313.34L357.86,310.34L359.31,313.34ZM358.26,314.10L359.71,311.10L361.16,314.10ZM360.10,314.75L361.55,311.75L363.00,314.75ZM361.94,315.36L363.39,312.36L364.84,315.36ZM363.78,315.60L365.23,312.60L366.68,315.60ZM365.62,315.60L367.07,312.60L368.52,315.60ZM367.47,315.60L368.92,312.60L370.37,315.60ZM369.31,315.60L370.76,312.60L372.21,315.60ZM371.15,315.60L372.60,312.60L374.05,315.60ZM372.99,315.60L374.44,312.60L375.89,315.60ZM374.83,315.60L376.28,312.60L377.73,315.60ZM376.68,315.60L378.13,312.60L379.58,315.60ZM378.52,315.60L379.97,312.60L381.42,315.60ZM380.36,315.60L381.81,312.60L383.26,315.60ZM382.20,315.60L383.65,312.60L385.10,315.60ZM384.04,315.60L385.49,312.60L386.94,315.60ZM385.89,315.60L387.34,312.60L388.79,315.60ZM387.73,315.60L389.18,312.60L390.63,315.60ZM389.57,315.60L391.02,312.60L392.47,315.60ZM391.41,315.60L392.86,312.60L394.31,315.60ZM393.25,315.60L394.70,312.60L396.15,315.60ZM395.10,315.60L396.55,312.60L398.00,315.60ZM396.94,315.60L398.39,312.60L399.84,315.60ZM398.78,315.60L400.23,312.60L401.68,315.60ZM400.62,315.60L402.07,312.60L403.52,315.60ZM402.46,315.60L403.91,312.60L405.36,315.60ZM404.31,315.60L405.76,312.60L407.21,315.60ZM406.15,315.60L407.60,312.60L409.05,315.60ZM407.99,315.60L409.44,312.60L410.89,315.60ZM409.83,315.60L411.28,312.60L412.73,315.60ZM411.67,315.60L413.12,312.60L414.57,315.60ZM413.52,315.60L414.97,312.60L416.42,315.60ZM415.36,315.60L416.81,312.60L418.26,315.60ZM417.20,315.60L418.65,312.60L420.10,315.60ZM419.04,315.60L420.49,312.60L421.94,315.60ZM420.88,315.60L422.33,312.60L423.78,315.60ZM422.73,315.60L424.18,312.60L425.63,315.60ZM424.57,315.60L426.02,312.60L427.47,315.60ZM426.41,315.60L427.86,312.60L429.31,315.60ZM428.25,315.60L429.70,312.60L431.15,315.60ZM430.09,315.60L431.54,312.60L432.99,315.60ZM431.94,315.60L433.39,312.60L434.84,315.60ZM433.78,315.60L435.23,312.60L436.68,315.60ZM435.62,315.60L437.07,312.60L438.52,315.60ZM437.46,315.60L438.91,312.60L440.36,315.60ZM439.30,315.60L440.75,312.60L442.20,315.60ZM441.15,315.60L442.60,312.60L444.05,315.60ZM442.99,315.60L444.44,312.60L445.89,315.60ZM444.83,315.60L446.28,312.60L447.73,315.60ZM446.67,315.60L448.12,312.60L449.57,315.60ZM448.51,315.60L449.96,312.60L451.41,315.60ZM450.36,315.60L451.81,312.60L453.26,315.60ZM452.20,315.60L453.65,312.60L455.10,315.60ZM454.04,315.60L455.49,312.60L456.94,315.60ZM455.88,315.60L457.33,312.60L458.78,315.60ZM457.72,315.60L459.17,312.60L460.62,315.60ZM459.57,315.60L461.02,312.60L462.47,315.60ZM461.41,315.60L462.86,312.60L464.31,315.60ZM463.25,315.60L464.70,312.60L466.15,315.60ZM465.09,315.60L466.54,312.60L467.99,315.60ZM466.93,315.60L468.38,312.60L469.83,315.60ZM468.78,315.60L470.23,312.60L471.68,315.60ZM470.62,315.60L472.07,312.60L473.52,315.60ZM472.46,315.60L473.91,312.60L475.36,315.60ZM474.30,315.60L475.75,312.60L477.20,315.60ZM476.14,315.60L477.59,312.60L479.04,315.60ZM477.99,315.60L479.44,312.60L480.89,315.60ZM479.83,315.60L481.28,312.60L482.73,315.60ZM481.67,315.60L483.12,312.60L484.57,315.60ZM483.51,315.60L484.96,312.60L486.41,315.60ZM485.35,315.60L486.80,312.60L488.25,315.60ZM487.20,315.60L488.65,312.60L490.10,315.60ZM489.04,315.60L490.49,312.60L491.94,315.60ZM490.88,315.60L492.33,312.60L493.78,315.60ZM492.72,315.60L494.17,312.60L495.62,315.60ZM494.56,315.60L496.01,312.60L497.46,315.60ZM496.41,315.60L497.86,312.60L499.31,315.60ZM498.25,315.60L499.70,312.60L501.15,315.60ZM500.09,315.60L501.54,312.60L502.99,315.60ZM501.93,315.60L503.38,312.60L504.83,315.60ZM503.77,315.60L505.22,312.60L506.67,315.60ZM505.62,315.60L507.07,312.60L508.52,315.60ZM507.46,315.60L508.91,312.60L510.36,315.60ZM509.30,315.60L510.75,312.60L512.20,315.60ZM511.14,315.60L512.59,312.60L514.04,315.60ZM512.98,315.60L514.43,312.60L515.88,315.60ZM514.83,315.60L516.28,312.60L517.73,315.60ZM516.67,315.60L518.12,312.60L519.57,315.60ZM518.51,315.60L519.96,312.60L521.41,315.60ZM520.35,315.60L521.80,312.60L523.25,315.60ZM522.19,315.60L523.64,312.60L525.09,315.60ZM524.04,315.60L525.49,312.60L526.94,315.60ZM525.88,315.60L527.33,312.60L528.78,315.60ZM527.72,315.60L529.17,312.60L530.62,315.60ZM529.56,315.60L531.01,312.60L532.46,315.60ZM531.40,315.60L532.85,312.60L534.30,315.60ZM533.25,315.60L534.70,312.60L536.15,315.60ZM535.09,315.60L536.54,312.60L537.99,315.60ZM536.93,315.60L538.38,312.60L539.83,315.60ZM538.77,315.60L540.22,312.60L541.67,315.60ZM540.61,315.60L542.06,312.60L543.51,315.60ZM542.46,315.60L543.91,312.60L545.36,315.60ZM544.30,315.60L545.75,312.60L547.20,315.60ZM546.14,315.60L547.59,312.60L549.04,315.60ZM547.98,315.60L549.43,312.60L550.88,315.60ZM549.82,315.60L551.27,312.60L552.72,315.60ZM551.67,315.60L553.12,312.60L554.57,315.60ZM553.51,315.60L554.96,312.60L556.41,315.60ZM555.35,315.60L556.80,312.60L558.25,315.60ZM557.19,315.60L558.64,312.60L560.09,315.60ZM559.03,315.60L560.48,312.60L561.93,315.60ZM560.88,315.60L562.33,312.60L563.78,315.60ZM562.72,315.60L564.17,312.60L565.62,315.60ZM564.56,315.60L566.01,312.60L567.46,315.60ZM566.40,315.60L567.85,312.60L569.30,315.60ZM568.24,315.60L569.69,312.60L571.14,315.60ZM570.09,315.60L571.54,312.60L572.99,315.60ZM571.93,315.60L573.38,312.60L574.83,315.60ZM573.77,315.60L575.22,312.60L576.67,315.60ZM575.61,315.60L577.06,312.60L578.51,315.60ZM577.45,315.60L578.90,312.60L580.35,315.60ZM579.30,315.60L580.75,312.60L582.20,315.60ZM581.14,315.60L582.59,312.60L584.04,315.60ZM582.98,315.60L584.43,312.60L585.88,315.60ZM584.82,315.60L586.27,312.60L587.72,315.60ZM586.66,315.60L588.11,312.60L589.56,315.60ZM588.51,315.60L589.96,312.60L591.41,315.60ZM590.35,315.60L591.80,312.60L593.25,315.60ZM592.19,315.60L593.64,312.60L595.09,315.60ZM594.03,315.60L595.48,312.60L596.93,315.60ZM595.87,315.60L597.32,312.60L598.77,315.60ZM597.72,315.60L599.17,312.60L600.62,315.60ZM599.56,315.60L601.01,312.60L602.46,315.60ZM601.40,315.60L602.85,312.60L604.30,315.60ZM603.24,315.60L604.69,312.60L606.14,315.60ZM605.08,315.60L606.53,312.60L607.98,315.60ZM606.93,315.60L608.38,312.60L609.83,315.60ZM608.77,315.60L610.22,312.60L611.67,315.60ZM610.61,315.60L612.06,312.60L613.51,315.60ZM612.45,315.60L613.90,312.60L615.35,315.60ZM614.29,315.60L615.74,312.60L617.19,315.60ZM616.14,315.60L617.59,312.60L619.04,315.60ZM617.98,315.60L619.43,312.60L620.88,315.60ZM619.82,315.60L621.27,312.60L622.72,315.60ZM621.66,315.60L623.11,312.60L624.56,315.60ZM623.50,315.60L624.95,312.60L626.40,315.60ZM625.35,315.60L626.80,312.60L628.25,315.60ZM627.19,315.60L628.64,312.60L630.09,315.60ZM629.03,315.60L630.48,312.60L631.93,315.60ZM630.87,315.60L632.32,312.60L633.77,315.60ZM632.71,315.60L634.16,312.60L635.61,315.60ZM634.56,315.60L636.01,312.60L637.46,315.60ZM636.40,315.60L637.85,312.60L639.30,315.60ZM638.24,315.60L639.69,312.60L641.14,315.60ZM640.08,315.60L641.53,312.60L642.98,315.60ZM641.92,315.60L643.37,312.60L644.82,315.60ZM643.77,315.60L645.22,312.60L646.67,315.60ZM645.61,315.60L647.06,312.60L648.51,315.60ZM647.45,315.60L648.90,312.60L650.35,315.60ZM649.29,315.60L650.74,312.60L652.19,315.60ZM651.13,315.60L652.58,312.60L654.03,315.60ZM652.98,315.60L654.43,312.60L655.88,315.60ZM654.82,315.60L656.27,312.60L657.72,315.60ZM656.66,315.60L658.11,312.60L659.56,315.60Z" fill="#ffc000"/>
<path d="M54.5,385.5 L308.5,385.5 L311.3,373.3 L321.3,373.3 L324.8,385.5 L332.6,385.5 L333.5,384.4 L340.0,384.6 L348.3,385.2 L356.6,385.1 L364.8,384.6 L371.5,383.7 L376.4,382.9 L381.4,382.6 L384.7,382.1 L387.2,380.4 L389.7,376.3 L393.0,375.5 L396.3,373.0 L398.3,372.2 L400.8,373.8 L403.3,373.8 L405.8,370.5 L408.2,368.8 L410.7,367.2 L413.2,363.9 L415.7,363.0 L418.2,362.2 L420.7,360.6 L423.1,358.9 L425.6,361.4 L428.1,362.2 L430.6,363.9 L433.1,362.2 L435.6,363.0 L438.0,362.2 L440.5,358.1 L443.0,353.1 L445.5,353.1 L448.0,352.3 L450.5,350.6 L452.1,349.0 L454.6,353.9 L457.1,354.8 L459.6,354.5 L462.3,352.2 L465.0,351.2 L467.5,352.2 L469.9,350.5 L472.4,352.2 L474.9,352.2 L477.4,352.2 L479.9,350.5 L482.4,351.4 L484.8,352.2 L487.3,353.0 L489.8,352.2 L492.3,350.5 L494.8,348.0 L497.3,346.4 L499.7,341.8 L502.2,343.1 L504.7,342.3 L508.0,341.4 L510.5,345.6 L513.0,348.0 L516.3,343.9 L518.8,347.2 L521.3,346.4 L523.7,347.2 L526.0,348.5 L528.7,350.5 L530.0,352.2 L532.5,352.2 L534.9,353.8 L537.4,356.3 L539.9,358.8 L542.4,358.0 L544.9,356.3 L547.4,355.5 L549.8,353.0 L552.3,348.9 L554.8,347.2 L557.3,344.7 L559.8,344.7 L562.3,343.9 L564.7,342.3 L567.2,343.9 L569.7,344.7 L572.2,347.2 L574.7,348.0 L577.2,348.9 L579.6,348.0 L582.1,349.7 L584.6,349.7 L587.1,348.0 L588.7,344.7 L591.2,343.7 L595.0,342.3 L597.5,342.3 L599.9,344.7 L602.4,347.2 L604.9,348.9 L607.4,350.0 L609.9,348.9 L611.5,347.2 L614.0,351.4 L616.5,348.9 L619.0,347.2 L621.5,344.7 L624.8,343.1 L627.3,341.4 L629.7,342.3 L632.2,343.1 L634.7,343.4 L637.2,340.6 L639.7,337.3 L642.2,336.5 L644.6,336.5 L647.1,336.1 L649.6,338.9 L652.1,340.6 L654.6,340.6 L657.9,342.3" fill="none" stroke="#ff0000" stroke-width="2.3" stroke-linejoin="round" stroke-linecap="round"/>
<path d="M54.8,385.6H308.8" stroke="#a3161c" stroke-width="2.0"/><path d="M324.6,385.6H333.5" stroke="#a3161c" stroke-width="2.0"/><path d="M346,385.6H364" stroke="#a3161c" stroke-width="2.0"/>
<g class="tx">
<text transform="translate(39.30,194.20) scale(0.985,1.06)" text-anchor="end" class="t">0</text>
<text transform="translate(39.30,166.37) scale(0.985,1.06)" text-anchor="end" class="t">0.5</text>
<text transform="translate(39.30,138.53) scale(0.985,1.06)" text-anchor="end" class="t">1</text>
<text transform="translate(39.30,110.70) scale(0.985,1.06)" text-anchor="end" class="t">1.5</text>
<text transform="translate(39.30,82.87) scale(0.985,1.06)" text-anchor="end" class="t">2</text>
<text transform="translate(39.30,55.03) scale(0.985,1.06)" text-anchor="end" class="t">2.5</text>
<text transform="translate(39.30,27.20) scale(0.985,1.06)" text-anchor="end" class="t">3</text>
<text transform="translate(669.40,194.20) scale(0.985,1.06)" text-anchor="start" class="t">0</text>
<text transform="translate(669.40,170.34) scale(0.985,1.06)" text-anchor="start" class="t">6</text>
<text transform="translate(669.40,146.49) scale(0.985,1.06)" text-anchor="start" class="t">12</text>
<text transform="translate(669.40,122.63) scale(0.985,1.06)" text-anchor="start" class="t">18</text>
<text transform="translate(669.40,98.77) scale(0.985,1.06)" text-anchor="start" class="t">24</text>
<text transform="translate(669.40,74.91) scale(0.985,1.06)" text-anchor="start" class="t">30</text>
<text transform="translate(669.40,51.06) scale(0.985,1.06)" text-anchor="start" class="t">36</text>
<text transform="translate(669.40,27.20) scale(0.985,1.06)" text-anchor="start" class="t">42</text>
<text transform="translate(11.2,115.70) rotate(-90)" text-anchor="middle" class="t">Velocity (mm h<tspan dy="-4" font-size="9">-1</tspan><tspan dy="4">)</tspan></text>
<text transform="translate(703.0,111.30) rotate(-90)" text-anchor="middle" class="t">Temperature (°C)</text>
<text transform="translate(39.30,389.80) scale(0.985,1.06)" text-anchor="end" class="t">0</text>
<text transform="translate(39.30,361.88) scale(0.985,1.06)" text-anchor="end" class="t">0.5</text>
<text transform="translate(39.30,333.97) scale(0.985,1.06)" text-anchor="end" class="t">1</text>
<text transform="translate(39.30,306.05) scale(0.985,1.06)" text-anchor="end" class="t">1.5</text>
<text transform="translate(39.30,278.13) scale(0.985,1.06)" text-anchor="end" class="t">2</text>
<text transform="translate(39.30,250.22) scale(0.985,1.06)" text-anchor="end" class="t">2.5</text>
<text transform="translate(39.30,222.30) scale(0.985,1.06)" text-anchor="end" class="t">3</text>
<text transform="translate(669.40,389.80) scale(0.985,1.06)" text-anchor="start" class="t">0</text>
<text transform="translate(669.40,365.87) scale(0.985,1.06)" text-anchor="start" class="t">6</text>
<text transform="translate(669.40,341.94) scale(0.985,1.06)" text-anchor="start" class="t">12</text>
<text transform="translate(669.40,318.01) scale(0.985,1.06)" text-anchor="start" class="t">18</text>
<text transform="translate(669.40,294.09) scale(0.985,1.06)" text-anchor="start" class="t">24</text>
<text transform="translate(669.40,270.16) scale(0.985,1.06)" text-anchor="start" class="t">30</text>
<text transform="translate(669.40,246.23) scale(0.985,1.06)" text-anchor="start" class="t">36</text>
<text transform="translate(669.40,222.30) scale(0.985,1.06)" text-anchor="start" class="t">42</text>
<text transform="translate(50.50,406.50) scale(0.985,1.06)" text-anchor="middle" class="t">0</text>
<text transform="translate(161.04,406.50) scale(0.985,1.06)" text-anchor="middle" class="t">10</text>
<text transform="translate(271.58,406.50) scale(0.985,1.06)" text-anchor="middle" class="t">20</text>
<text transform="translate(382.12,406.50) scale(0.985,1.06)" text-anchor="middle" class="t">30</text>
<text transform="translate(492.66,406.50) scale(0.985,1.06)" text-anchor="middle" class="t">40</text>
<text transform="translate(603.20,406.50) scale(0.985,1.06)" text-anchor="middle" class="t">50</text>
<text transform="translate(11.2,316.90) rotate(-90)" text-anchor="middle" class="t">Velocity (mm h<tspan dy="-4" font-size="9">-1</tspan><tspan dy="4">)</tspan></text>
<text transform="translate(703.0,306.00) rotate(-90)" text-anchor="middle" class="t">Temperature (°C)</text>
<text x="56.3" y="15.6" class="lab">A</text>
<text x="56.8" y="210.6" class="lab">B</text>
<text transform="translate(348.2,418.9) scale(0.99,1.05)" text-anchor="middle" class="t">Time (hours)</text>
</g>
</svg>
</body></html>
